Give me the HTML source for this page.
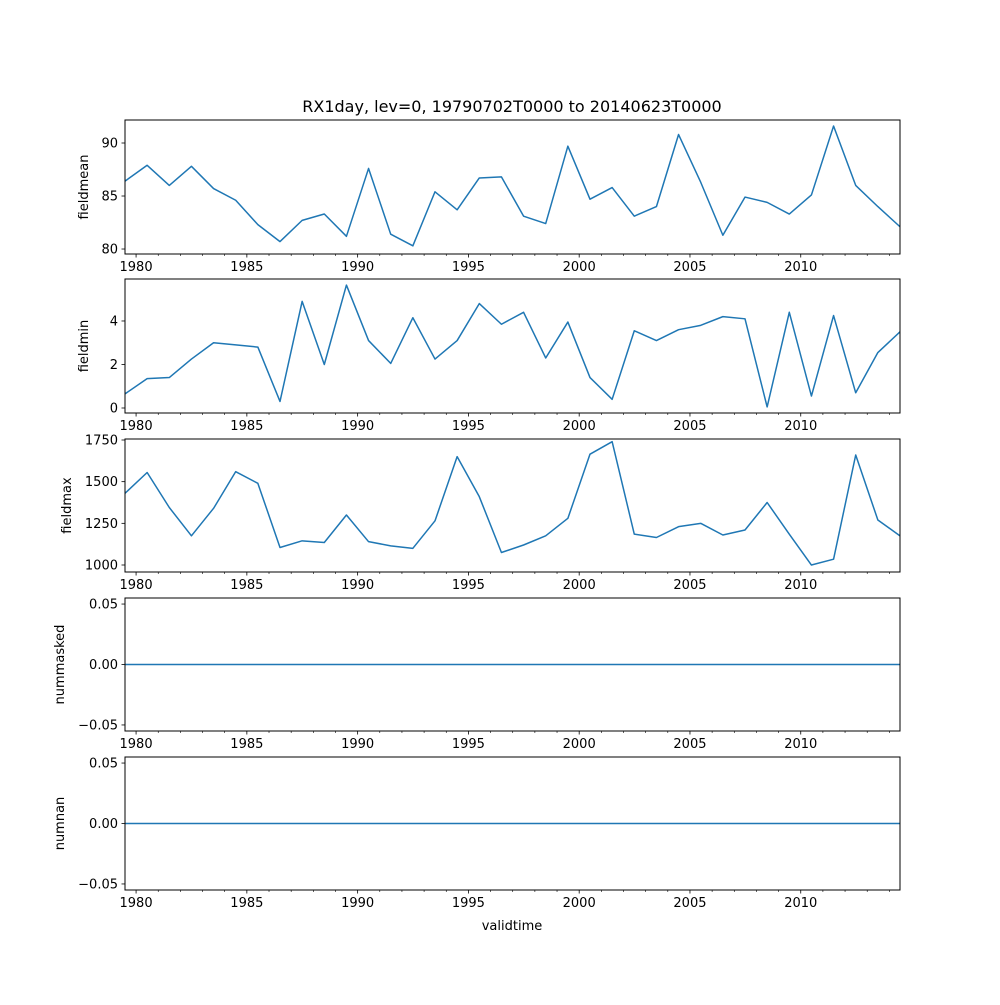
<!DOCTYPE html>
<html><head><meta charset="utf-8"><style>
body{margin:0;background:#fff}
svg text{font-family:"DejaVu Sans","Liberation Sans",sans-serif;fill:#000}
</style></head><body>
<svg id="fig" width="1000" height="1000" xmlns="http://www.w3.org/2000/svg">
<rect width="1000" height="1000" fill="#fff"/>
<text x="512" y="112" font-size="16" text-anchor="middle">RX1day, lev=0, 19790702T0000 to 20140623T0000</text>
<text x="512" y="930" font-size="13" text-anchor="middle">validtime</text>
</svg>
<script>
const startYear = 1979.5;
const yearTickLabels = [1980, 1985, 1990, 1995, 2000, 2005, 2010];
const fieldmean = [86.4,87.9,86.0,87.8,85.7,84.6,82.3,80.7,82.7,83.3,81.2,87.6,81.4,80.3,85.4,83.7,86.7,86.8,83.1,82.4,89.7,84.7,85.8,83.1,84.0,90.8,86.3,81.3,84.9,84.4,83.3,85.1,91.6,86.0,84.0,82.1];
const fieldmin = [0.65,1.35,1.4,2.25,3.0,2.9,2.8,0.3,4.9,2.0,5.65,3.1,2.05,4.15,2.25,3.1,4.8,3.85,4.4,2.3,3.95,1.4,0.4,3.55,3.1,3.6,3.8,4.2,4.1,0.05,4.4,0.55,4.25,0.7,2.55,3.5];
const fieldmax = [1430,1555,1345,1175,1340,1560,1490,1105,1145,1135,1300,1140,1115,1100,1265,1650,1410,1075,1120,1175,1280,1665,1740,1185,1165,1230,1250,1180,1210,1375,1185,1000,1035,1660,1270,1175];
const nummasked = new Array(36).fill(0);
const numnan = new Array(36).fill(0);
const meanTicks = [80, 85, 90];
const minTicks = [0, 2, 4];
const maxTicks = [1000, 1250, 1500, 1750];
const zeroTicks = [-0.05, 0.00, 0.05];

const NS = "http://www.w3.org/2000/svg";
const svg = document.getElementById('fig');
const X0 = 125, X1 = 900, span = 34.98;
function xYear(y){ return X0 + (y - startYear) / span * (X1 - X0); }
function xIdx(i, n){ return X0 + i * (X1 - X0) / (n - 1); }
function mk(tag, attrs){ const e = document.createElementNS(NS, tag); for (const k in attrs) e.setAttribute(k, attrs[k]); svg.appendChild(e); return e; }

const panels = [
 {name:'fieldmean', data:fieldmean, ticks:meanTicks, lo:79.53, hi:92.17, top:120, bot:254, fmt:v=>String(v)},
 {name:'fieldmin', data:fieldmin, ticks:minTicks, lo:-0.23, hi:5.93, top:279, bot:413, fmt:v=>String(v)},
 {name:'fieldmax', data:fieldmax, ticks:maxTicks, lo:958, hi:1756, top:439, bot:572, fmt:v=>String(v)},
 {name:'nummasked', data:nummasked, ticks:zeroTicks, lo:-0.055, hi:0.055, top:598, bot:731, fmt:v=>v.toFixed(2).replace('-', '\u2212')},
 {name:'numnan', data:numnan, ticks:zeroTicks, lo:-0.055, hi:0.055, top:757, bot:890, fmt:v=>v.toFixed(2).replace('-', '\u2212')}
];

panels.forEach(p => {
  const yS = v => p.bot - (v - p.lo) / (p.hi - p.lo) * (p.bot - p.top);
  const pts = p.data.map((v, i) => xIdx(i, p.data.length).toFixed(2) + ',' + yS(v).toFixed(2)).join(' ');
  const line = mk('polyline', {points: pts, fill: 'none', stroke: '#1f77b4', 'stroke-width': 1.5, 'stroke-linejoin': 'round'});
  
  
  const frame = mk('rect', {x: X0, y: p.top, width: X1 - X0, height: p.bot - p.top, fill: 'none', stroke: '#000', 'stroke-width': 1});
  
  
  // y ticks
  p.ticks.forEach(t => {
    const y = yS(t);
    mk('line', {x1: X0 - 3.5, x2: X0, y1: y, y2: y, stroke: '#000', 'stroke-width': 0.8});
    const tx = mk('text', {x: X0 - 7, y: y + 4.5, 'font-size': 13, 'text-anchor': 'end'});
    tx.textContent = p.fmt(t);
    
    
  });
  // minor x ticks
  for (let yr = 1980; yr <= 2014; yr++) {
    const x = xYear(yr);
    const major = yearTickLabels.includes(yr);
    mk('line', {x1: x, x2: x, y1: p.bot, y2: p.bot + (major ? 3.5 : 2), stroke: '#000', 'stroke-width': major ? 0.8 : 0.6});
  }
  yearTickLabels.forEach(yr => {
    const tx = mk('text', {x: xYear(yr), y: p.bot + 17, 'font-size': 13, 'text-anchor': 'middle'});
    tx.textContent = yr;
    
    
  });
  const lab = mk('text', {x: 0, y: 0, 'font-size': 13, 'text-anchor': 'middle', transform: 'translate(' + (p.name.startsWith('num') ? 64 : (p.name === 'fieldmax' ? 71 : 88)) + ',' + ((p.top + p.bot) / 2) + ') rotate(-90)'});
  lab.textContent = p.name;
  
  
});
</script>
</body></html>
